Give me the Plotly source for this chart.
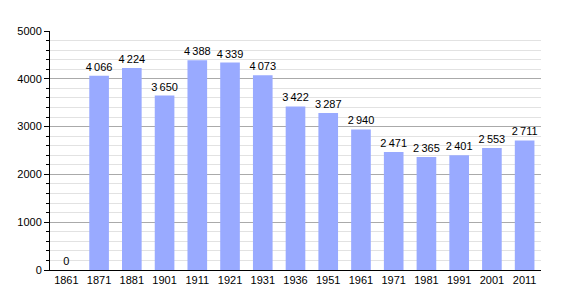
import plotly.graph_objects as go

years = ["1861", "1871", "1881", "1901", "1911", "1921", "1931", "1936",
         "1951", "1961", "1971", "1981", "1991", "2001", "2011"]
population = [0, 4066, 4224, 3650, 4388, 4339, 4073, 3422,
              3287, 2940, 2471, 2365, 2401, 2553, 2711]
labels = [f"{v:,}".replace(",", "\u2009") for v in population]

fig = go.Figure(go.Bar(
    x=years, y=population, text=labels, textposition="outside",
    textfont=dict(family="Liberation Sans, Arial", size=11, color="black"),
    marker=dict(color="#99aaff", line=dict(width=0)),
    cliponaxis=False, constraintext="none",
))

fig.update_layout(
    width=570, height=300,
    margin=dict(l=50, r=29, t=31, b=30),
    plot_bgcolor="white", paper_bgcolor="white",
    bargap=0.4, showlegend=False,
    font=dict(family="Liberation Sans, Arial", size=11, color="black"),
)
fig.update_xaxes(
    type="category", showline=True, linecolor="black", linewidth=1,
    ticks="", showgrid=False, tickfont=dict(size=11), ticklabelstandoff=0,
)
fig.update_yaxes(
    range=[0, 5000], dtick=1000, showline=True, linecolor="black", linewidth=1,
    ticks="outside", ticklen=5, tickcolor="black",
    showgrid=True, gridcolor="#aaaaaa", gridwidth=1,
    zeroline=False, tickfont=dict(size=11),
    minor=dict(dtick=200, showgrid=True, gridcolor="#e2e2e2", ticks="outside",
               ticklen=3, tickcolor="black"),
)

fig.write_html("out.html")
